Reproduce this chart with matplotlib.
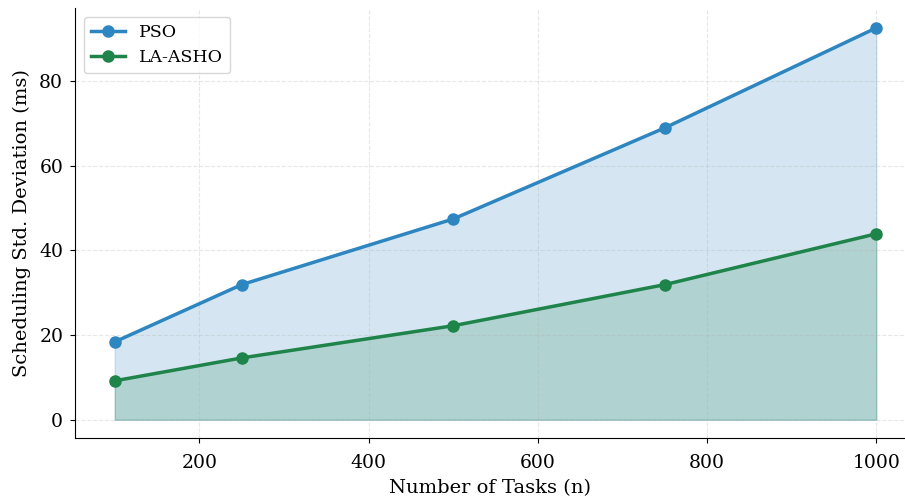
import matplotlib
matplotlib.use("Agg")
import matplotlib.pyplot as plt

# data
tasks = [100, 250, 500, 750, 1000]
pso = [18.4, 31.9, 47.4, 68.9, 92.5]
la_asho = [9.2, 14.6, 22.2, 31.9, 43.9]

plt.rcParams['font.family'] = 'DejaVu Serif'

fig = plt.figure(figsize=(9.05, 4.97), dpi=100)
ax = fig.add_axes([75 / 905, 59 / 497, 830 / 905, 430 / 497])

# PSO line and shaded area
ax.plot(tasks, pso, marker='o', color='#2E86C1', linewidth=2.5, markersize=8, label='PSO')
ax.fill_between(tasks, pso, 0, color='#2E86C1', alpha=0.2)

# LA-ASHO line and shaded area
ax.plot(tasks, la_asho, marker='o', color='#1E8449', linewidth=2.5, markersize=8, label='LA-ASHO')
ax.fill_between(tasks, la_asho, 0, color='#1E8449', alpha=0.2)

ax.set_xlim(53, 1034)
ax.set_ylim(-4.3, 97.2)
ax.set_xticks([200, 400, 600, 800, 1000])
ax.set_yticks([0, 20, 40, 60, 80])
ax.tick_params(axis='x', labelsize=13.5, pad=8)
ax.tick_params(axis='y', labelsize=13.5, pad=5)

ax.set_xlabel('Number of Tasks (n)', fontsize=14, labelpad=5)
ax.set_ylabel('Scheduling Std. Deviation (ms)', fontsize=14, labelpad=6)

ax.grid(True, linestyle='--', alpha=0.3)
ax.spines['top'].set_visible(False)
ax.spines['right'].set_visible(False)

ax.legend(loc='upper left', fontsize=12.5)

fig.savefig('out.png', dpi=100)
